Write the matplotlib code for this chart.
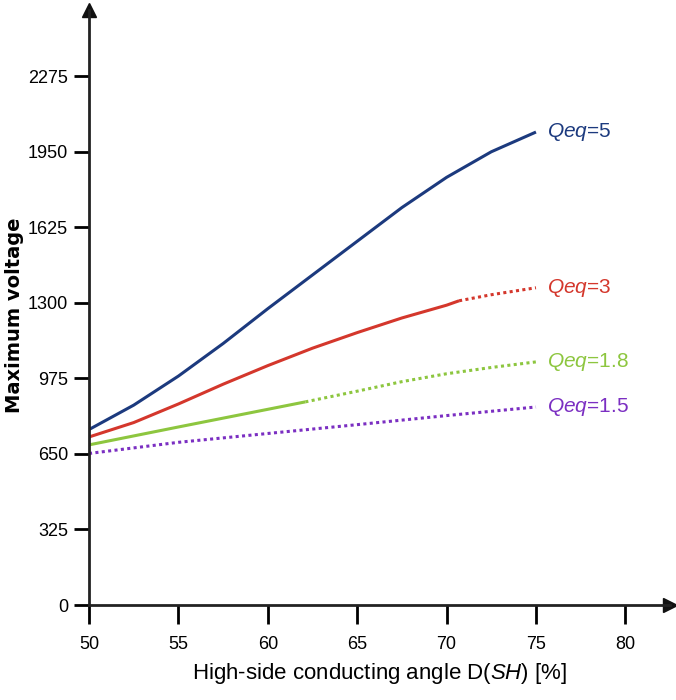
import matplotlib
matplotlib.use("Agg")
import matplotlib.pyplot as plt

plt.rcParams['font.family'] = ['Liberation Sans', 'DejaVu Sans']
plt.rcParams['mathtext.fontset'] = 'custom'
plt.rcParams['mathtext.it'] = 'Liberation Sans:italic'
plt.rcParams['mathtext.rm'] = 'Liberation Sans'

# conducting angle D (%) and maximum voltage
d_q5 = [50, 52.5, 55, 57.5, 60, 62.5, 65, 67.5, 70, 72.5, 75]
v_q5 = [755, 860, 985, 1125, 1275, 1420, 1565, 1710, 1840, 1950, 2035]

d_q3_solid = [50, 52.5, 55, 57.5, 60, 62.5, 65, 67.5, 70, 70.7]
v_q3_solid = [723, 785, 865, 950, 1030, 1105, 1172, 1235, 1290, 1309]
d_q3_dot = [70.7, 72.5, 75]
v_q3_dot = [1309, 1335, 1365]

d_q18_solid = [50, 55, 60, 62.1]
v_q18_solid = [689, 766, 842, 874]
d_q18_dot = [62.1, 65, 67.5, 70, 72.5, 75]
v_q18_dot = [874, 920, 961, 995, 1022, 1046]

d_q15 = [50, 55, 60, 65, 70, 75]
v_q15 = [652, 700, 738, 776, 815, 852]

labels = ['5', '3', '1.8', '1.5']
label_v = [2035, 1365, 1046, 852]

x_ticks = [50, 55, 60, 65, 70, 75, 80]
y_ticks = [0, 325, 650, 975, 1300, 1625, 1950, 2275]

c_blue = '#1c3a7e'
c_red = '#d4372c'
c_green = '#8dc63f'
c_purple = '#7b2fc2'
colors = [c_blue, c_red, c_green, c_purple]

fig = plt.figure(figsize=(6.76, 7.0), dpi=100)
ax = fig.add_axes([0.1317, 0.1357, 0.8595, 0.85])

lw = 2.2
dots = (0, (1.0, 1.1))
ax.plot(d_q5, v_q5, color=c_blue, lw=lw, solid_capstyle='butt')
ax.plot(d_q3_solid, v_q3_solid, color=c_red, lw=lw, solid_capstyle='butt')
ax.plot(d_q3_dot, v_q3_dot, color=c_red, lw=lw, linestyle=dots, dash_capstyle='butt')
ax.plot(d_q18_solid, v_q18_solid, color=c_green, lw=lw, solid_capstyle='butt')
ax.plot(d_q18_dot, v_q18_dot, color=c_green, lw=lw, linestyle=dots, dash_capstyle='butt')
ax.plot(d_q15, v_q15, color=c_purple, lw=lw, linestyle=dots, dash_capstyle='butt')

for lab, v, c in zip(labels, label_v, colors):
    ax.text(75.6, v, r'$\mathit{Qeq}$=' + lab, color=c, fontsize=15,
            va='center', ha='left')

ax.set_xlim(50, 82.5)
ax.set_ylim(0, 2560)
ax.set_xticks(x_ticks)
ax.set_yticks(y_ticks)
ax.tick_params(axis='x', length=14, width=2, direction='out', labelsize=13, pad=8)
ax.tick_params(axis='y', length=11, width=2, direction='out', labelsize=13, pad=4)

for s in ['top', 'right']:
    ax.spines[s].set_visible(False)
for s in ['left', 'bottom']:
    ax.spines[s].set_linewidth(2)
    ax.spines[s].set_color('#222222')

# axis arrows
ax.plot(1, 0, '>', color='#111111', ms=10, transform=ax.transAxes, clip_on=False)
ax.plot(0, 1, '^', color='#111111', ms=10, transform=ax.transAxes, clip_on=False)

ax.set_xlabel(r'High-side conducting angle D($\mathit{SH}$) [%]', fontsize=16, labelpad=6)
ax.set_ylabel('Maximum voltage', fontsize=14, fontweight='bold',
              family=['DejaVu Sans'])
ax.yaxis.set_label_coords(-0.112, 0.487)

fig.savefig('out.png', dpi=100)
